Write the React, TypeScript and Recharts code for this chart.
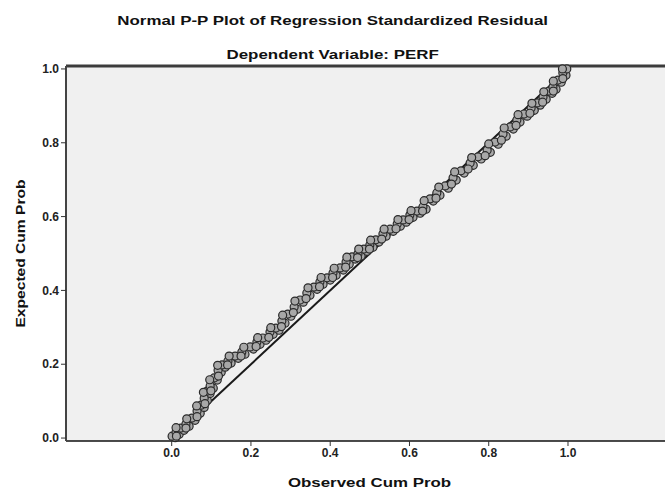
import { ScatterChart, Scatter, XAxis, YAxis, CartesianGrid, ReferenceLine, Label } from "recharts";

const observedA = [
  0.001, 0.011, 0.023, 0.036, 0.051, 0.064, 0.074, 0.082, 0.089, 0.097, 0.107, 0.117, 0.127, 0.142, 0.16,
  0.177, 0.198, 0.215, 0.23, 0.248, 0.263, 0.278, 0.293, 0.309, 0.324, 0.341, 0.359, 0.374, 0.392, 0.407,
  0.425, 0.44, 0.455, 0.47, 0.485, 0.5, 0.515, 0.533, 0.551, 0.569, 0.584, 0.601, 0.619, 0.634, 0.652,
  0.669, 0.69, 0.71, 0.73, 0.753, 0.773, 0.796, 0.816, 0.836, 0.854, 0.871, 0.889, 0.907, 0.922, 0.937,
  0.952, 0.962, 0.975, 0.987, 0.997,
];
const expectedA = [
  0.005, 0.016, 0.027, 0.038, 0.054, 0.073, 0.089, 0.108, 0.127, 0.141, 0.163, 0.184, 0.198, 0.209, 0.222,
  0.233, 0.247, 0.26, 0.271, 0.287, 0.298, 0.317, 0.336, 0.355, 0.374, 0.393, 0.409, 0.423, 0.434, 0.447,
  0.461, 0.477, 0.491, 0.499, 0.512, 0.523, 0.537, 0.553, 0.566, 0.58, 0.591, 0.604, 0.615, 0.626, 0.648,
  0.664, 0.683, 0.705, 0.724, 0.745, 0.762, 0.78, 0.802, 0.824, 0.843, 0.862, 0.878, 0.894, 0.908, 0.924,
  0.94, 0.951, 0.97, 0.989, 1.0,
];
const observedB = [
  0.012, 0.011, 0.036, 0.038, 0.064, 0.063, 0.084, 0.08, 0.099, 0.096, 0.118, 0.116, 0.141, 0.145, 0.175,
  0.182, 0.213, 0.217, 0.245, 0.25, 0.277, 0.28, 0.307, 0.311, 0.339, 0.344, 0.373, 0.377, 0.406, 0.41,
  0.439, 0.442, 0.469, 0.472, 0.499, 0.502, 0.53, 0.536, 0.566, 0.571, 0.599, 0.604, 0.633, 0.637, 0.667,
  0.674, 0.706, 0.714, 0.748, 0.757, 0.791, 0.8, 0.832, 0.839, 0.869, 0.874, 0.904, 0.909, 0.936, 0.939,
  0.963, 0.963, 0.987, 0.986,
];
const expectedB = [
  0.005, 0.028, 0.027, 0.052, 0.058, 0.087, 0.093, 0.124, 0.128, 0.158, 0.168, 0.197, 0.198, 0.222, 0.222,
  0.246, 0.248, 0.272, 0.273, 0.299, 0.302, 0.333, 0.34, 0.371, 0.378, 0.407, 0.41, 0.435, 0.435, 0.46,
  0.463, 0.49, 0.489, 0.512, 0.512, 0.536, 0.539, 0.566, 0.567, 0.592, 0.592, 0.616, 0.615, 0.643, 0.65,
  0.68, 0.688, 0.721, 0.729, 0.76, 0.765, 0.797, 0.807, 0.84, 0.847, 0.876, 0.88, 0.907, 0.91, 0.938,
  0.94, 0.967, 0.974, 1.0,
];
const observedC = [
  0.009, 0.019, 0.031, 0.044, 0.059, 0.072, 0.082, 0.09, 0.097, 0.105, 0.115, 0.125, 0.135, 0.15, 0.168,
  0.185, 0.206, 0.223, 0.238, 0.256, 0.271, 0.286, 0.301, 0.317, 0.332, 0.349, 0.367, 0.382, 0.4, 0.415,
  0.433, 0.448, 0.463, 0.478, 0.493, 0.508, 0.523, 0.541, 0.559, 0.577, 0.592, 0.609, 0.627, 0.642, 0.66,
  0.677, 0.698, 0.718, 0.738, 0.761, 0.781, 0.804, 0.824, 0.844, 0.862, 0.879, 0.897, 0.915, 0.93, 0.945,
  0.96, 0.97, 0.983, 0.995,
];
const expectedC = [
  0.001, 0.01, 0.021, 0.032, 0.048, 0.067, 0.083, 0.102, 0.121, 0.135, 0.157, 0.178, 0.192, 0.203, 0.216,
  0.227, 0.241, 0.254, 0.265, 0.281, 0.292, 0.311, 0.33, 0.349, 0.368, 0.387, 0.403, 0.417, 0.428, 0.441,
  0.455, 0.471, 0.485, 0.493, 0.506, 0.517, 0.531, 0.547, 0.56, 0.574, 0.585, 0.598, 0.609, 0.62, 0.642,
  0.658, 0.677, 0.699, 0.718, 0.739, 0.756, 0.774, 0.796, 0.818, 0.837, 0.856, 0.872, 0.888, 0.902, 0.918,
  0.934, 0.945, 0.964, 0.983,
];
const diagonal = [
  { x: 0, y: 0 },
  { x: 1, y: 1 },
];
const ticks = [0, 0.2, 0.4, 0.6, 0.8, 1.0];
const xDomain: [number, number] = [-0.2667, 1.2448];
const yDomain: [number, number] = [-0.008, 1.008];

const FONT = "'Liberation Sans', Arial, sans-serif";

const residuals = [
  ...observedC.map((x, i) => ({ x, y: expectedC[i] })),
  ...observedA.map((x, i) => ({ x, y: expectedA[i] })),
  ...observedB.map((x, i) => ({ x, y: expectedB[i] })),
];

const Dot = (p: any) => (
  <circle cx={p.cx} cy={p.cy} r={4} fill="#a8a8a8" stroke="#2a2a2a" strokeWidth={1.2} />
);

const tickStyle = { fill: "#222", fontSize: 12, fontWeight: "bold" as const, fontFamily: FONT };

const XTitle = ({ viewBox }: any) => {
  const cx = viewBox.x + viewBox.width / 2 + 4;
  const cy = viewBox.y + 41;
  return (
    <text
      transform={`translate(${cx},${cy}) scale(1.3,1)`}
      textAnchor="middle"
      dominantBaseline="central"
      fontSize={13}
      fontWeight="bold"
      fontFamily={FONT}
      fill="#111"
    >
      Observed Cum Prob
    </text>
  );
};

const YTitle = ({ viewBox }: any) => {
  const cy = viewBox.y + viewBox.height / 2;
  return (
    <text
      transform={`translate(20,${cy}) rotate(-90) scale(1.2,1)`}
      textAnchor="middle"
      dominantBaseline="central"
      fontSize={13}
      fontWeight="bold"
      fontFamily={FONT}
      fill="#111"
    >
      Expected Cum Prob
    </text>
  );
};

const titleStyle = {
  display: "inline-block",
  fontSize: 13,
  fontWeight: "bold" as const,
  transform: "scaleX(1.3)",
  color: "#111",
  lineHeight: "15px",
};

export default function App() {
  return (
    <div style={{ position: "absolute", left: 0, top: 0, width: 665, height: 495, background: "#fff", fontFamily: FONT }}>
      <div style={{ position: "absolute", top: 11, left: 0, width: 665, textAlign: "center" }}>
        <span style={titleStyle}>Normal P-P Plot of Regression Standardized Residual</span>
      </div>
      <div style={{ position: "absolute", top: 45, left: 0, width: 665, textAlign: "center" }}>
        <span style={titleStyle}>Dependent Variable: PERF</span>
      </div>
      <ScatterChart width={665} height={495} margin={{ top: 66, right: 0, bottom: 0, left: 0 }}>
        <CartesianGrid horizontal={false} vertical={false} fill="#f0f0f0" />
        <XAxis
          type="number"
          dataKey="x"
          domain={xDomain}
          ticks={ticks}
          tickFormatter={(v: number) => v.toFixed(1)}
          height={54}
          tick={tickStyle}
          tickSize={5}
          tickLine={{ stroke: "#333" }}
          axisLine={{ stroke: "#111", strokeWidth: 1.5 }}
        >
          <Label content={XTitle} />
        </XAxis>
        <YAxis
          type="number"
          dataKey="y"
          domain={yDomain}
          ticks={ticks}
          tickFormatter={(v: number) => v.toFixed(1)}
          width={66}
          tick={tickStyle}
          tickSize={5}
          tickLine={{ stroke: "#333" }}
          axisLine={{ stroke: "#444", strokeWidth: 2 }}
        >
          <Label content={YTitle} />
        </YAxis>
        <ReferenceLine y={yDomain[1]} stroke="#3c3c3c" strokeWidth={3} />
        <Scatter
          data={diagonal}
          line={{ stroke: "#1a1a1a", strokeWidth: 2 }}
          shape={() => null}
          isAnimationActive={false}
        />
        <Scatter data={residuals} shape={Dot} isAnimationActive={false} />
      </ScatterChart>
    </div>
  );
}
